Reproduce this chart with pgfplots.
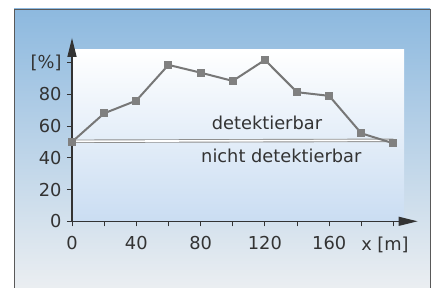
\documentclass[border=0pt]{standalone}
\usepackage{fontspec}
\setmainfont{DejaVu Sans}
\usepackage{pgfplots}
\pgfplotsset{compat=1.18}
\usetikzlibrary{arrows.meta}
\definecolor{txt}{HTML}{333333}
\definecolor{bgtop}{HTML}{8DB9DF}
\definecolor{bgmid}{HTML}{BCD3E8}
\definecolor{bgbot}{HTML}{EEF0F2}
\definecolor{innerbot}{HTML}{CADDF2}
\definecolor{linegray}{HTML}{777777}
\definecolor{markgray}{HTML}{808080}
\definecolor{dbl}{HTML}{8F8F8F}
\begin{document}
\begin{tikzpicture}
\useasboundingbox (0pt,0pt) rectangle (435pt,288pt);
\fill[white] (0pt,0pt) rectangle (435pt,288pt);
\begin{scope}
\clip (0pt,0pt) rectangle (435pt,288pt);
\shade[top color=bgtop, middle color=bgmid, bottom color=bgbot] (14pt,-10pt) rectangle (430pt,279pt);
\draw[black!65, line width=0.8pt] (14pt,-10pt) rectangle (430pt,279pt);
\fill[top color=white, bottom color=innerbot] (72pt,66.7pt) rectangle (404pt,238pt);
\end{scope}
\begin{axis}[
  at={(72pt,66.7pt)}, anchor=origin,
  scale only axis, width=345.6pt, height=183.4pt,
  xmin=0, xmax=215, ymin=0, ymax=115.5,
  clip=false,
  axis x line=bottom, axis y line=left,
  x axis line style={txt, line width=1.2pt, -{Triangle[length=19pt,width=9pt]}},
  y axis line style={txt, line width=1.2pt, -{Triangle[length=19pt,width=9pt]}},
  xtick={0,20,...,200}, xticklabels={0,,40,,80,,120,,160,,},
  ytick={0,20,...,100}, yticklabels={0,20,40,60,80,[\%]},
  tick style={txt, line width=1pt},
  major tick length=5pt, tick align=outside,
  /pgf/number format/assume math mode=true,
  ticklabel style={font=\fontsize{17.8}{20}\selectfont, text=txt},
  xticklabel style={anchor=base, yshift=-23pt},
  yticklabel style={xshift=-2pt},
]
\addplot[draw=dbl, line width=0.9pt, double=white, double distance=1.6pt] coordinates {(0,50.4) (200,51.0)};
\addplot[color=linegray, line width=2pt, mark=square*, mark size=3pt, mark options={fill=markgray, draw=markgray}] coordinates {
(0,50) (20,68) (40,76) (60,98.5) (80,93.6) (100,88.4) (120,101.6) (140,81.3) (160,79) (180,55.4) (200,49.1)};
\node[anchor=base, text=txt, font=\fontsize{17.8}{20}\selectfont] at (axis cs:121.3,58) {detektierbar};
\node[anchor=base, text=txt, font=\fontsize{17.8}{20}\selectfont] at (axis cs:130.2,36.9) {nicht detektierbar};
\node[anchor=base, text=txt, font=\fontsize{17.8}{20}\selectfont] at (axis cs:194.7,0) [yshift=-29.4pt] {x [m]};
\end{axis}
\end{tikzpicture}
\end{document}
